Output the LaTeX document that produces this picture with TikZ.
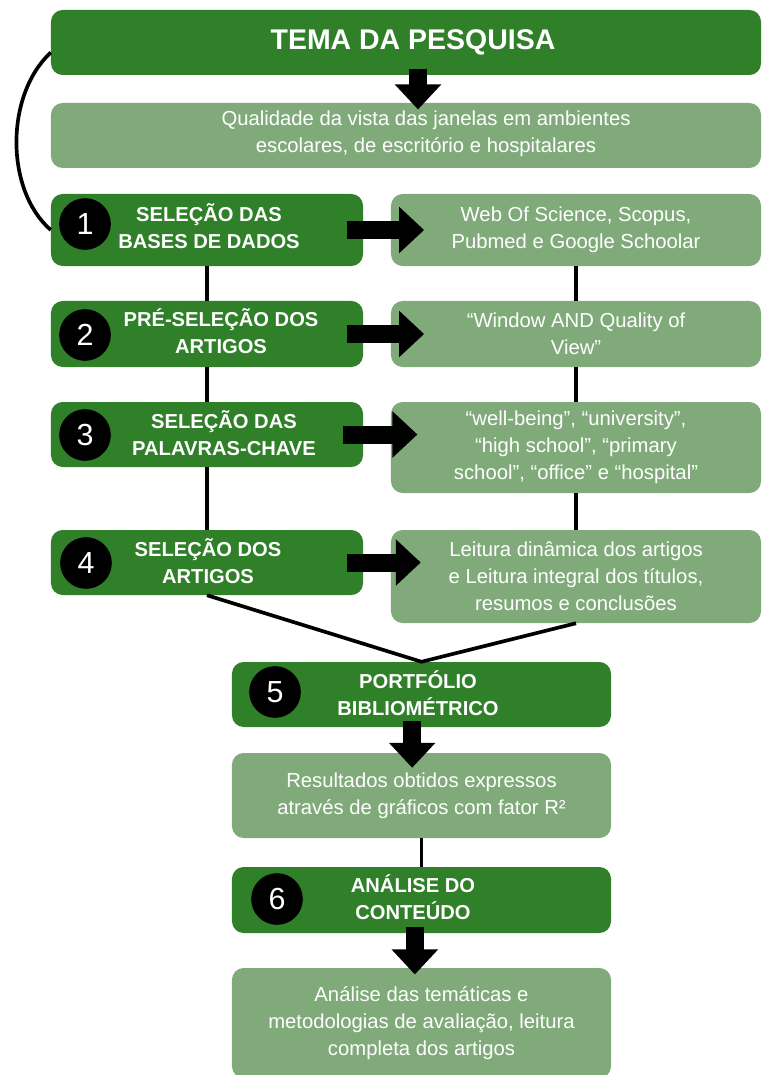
\documentclass[tikz,border=0pt]{standalone}
\usepackage{fontspec}
\setmainfont{Liberation Sans}
\usepackage{xcolor}
\usepackage{tikz}
\usetikzlibrary{arrows.meta}
\definecolor{stepgreen}{RGB}{47,128,41}
\definecolor{softgreen}{RGB}{128,170,122}
\tikzset{
  stepbox/.style={rectangle,rounded corners=0.35cm,fill=stepgreen,minimum width=9.36cm,inner sep=0pt},
  infobox/.style={rectangle,rounded corners=0.35cm,fill=softgreen,text=white,align=center,inner sep=0pt,font=\fontsize{17.3}{23}\selectfont},
  steptext/.style={text=white,align=center,inner sep=0pt,font=\fontsize{17.2}{23}\selectfont\bfseries},
  infotext/.style={text=white,align=center,inner sep=0pt,font=\fontsize{17.3}{23}\selectfont},
  numdot/.style={circle,fill=black,text=white,minimum size=1.55cm,inner sep=0pt,font=\fontsize{26}{26}\selectfont},
  link/.style={line width=0.11cm,black},
  bigarrow/.style={line width=0.54cm,black,-{Triangle[width=1.35cm,length=0.75cm]}}
}

\begin{document}
\begin{tikzpicture}[x=0.03cm,y=-0.03cm]
    \useasboundingbox (0,0) rectangle (762,1075);
    \fill[white] (0,0) rectangle (762,1075);
    \clip (0,0) rectangle (762,1075);

    \node[stepbox,minimum width=21.3cm,minimum height=1.95cm] (tema) at (406,42.5) {};
    \node[steptext,font=\fontsize{24.3}{29}\selectfont\bfseries] (title) at (413,42) {TEMA DA PESQUISA};
    \node[infobox,minimum width=21.3cm,minimum height=1.95cm] (qual) at (406,135.5) {};
    \node[infotext] (qtext) at (426,134) {Qualidade da vista das janelas em ambientes\\escolares, de escritório e hospitalares};

    \node[stepbox,minimum height=2.16cm] (s1) at (207,230) {};
    \node[numdot] (n1) at (85,224) {1};
    \node[steptext] (t1) at (209,226) {SELEÇÃO DAS\\BASES DE DADOS};
    \node[infobox,minimum width=11.1cm,minimum height=2.16cm] (r1) at (576,230) {Web Of Science, Scopus,\\Pubmed e Google Schoolar};

    \node[stepbox,minimum height=1.98cm] (s2) at (207,334) {};
    \node[numdot] (n2) at (85,335) {2};
    \node[steptext] (t2) at (221,331.5) {PRÉ-SELEÇÃO DOS\\ARTIGOS};
    \node[infobox,minimum width=11.1cm,minimum height=1.98cm] (r2) at (576,334) {“Window AND Quality of\\View”};

    \node[stepbox,minimum height=1.95cm] (s3) at (207,434.5) {};
    \node[numdot] (n3) at (85,435) {3};
    \node[steptext] (t3) at (224,433.5) {SELEÇÃO DAS\\PALAVRAS-CHAVE};
    \node[infobox,minimum width=11.1cm,minimum height=2.73cm] (r3) at (576,447.5) {“well-being”, “university”,\\“high school”, “primary\\school”, “office” e “hospital”};

    \node[stepbox,minimum height=1.95cm] (s4) at (207,562.5) {};
    \node[numdot] (n4) at (86,563) {4};
    \node[steptext] (t4) at (208,561.5) {SELEÇÃO DOS\\ARTIGOS};
    \node[infobox,minimum width=11.1cm,minimum height=2.79cm] (r4) at (576,576.5) {Leitura dinâmica dos artigos\\e Leitura integral dos títulos,\\resumos e conclusões};

    \node[stepbox,minimum width=11.37cm,minimum height=1.95cm] (s5) at (421.5,694.5) {};
    \node[numdot] (n5) at (275,692) {5};
    \node[steptext] (t5) at (418,693.5) {PORTFÓLIO\\BIBLIOMÉTRICO};
    \node[infobox,minimum width=11.37cm,minimum height=2.55cm] (res) at (421.5,795.5) {Resultados obtidos expressos\\através de gráficos com fator R²};

    \node[stepbox,minimum width=11.37cm,minimum height=1.98cm] (s6) at (421.5,900) {};
    \node[numdot] (n6) at (277,899) {6};
    \node[steptext] (t6) at (413,897.5) {ANÁLISE DO\\CONTEÚDO};
    \node[infobox,minimum width=11.37cm,minimum height=3.3cm] (fin) at (421.5,1023) {Análise das temáticas e\\metodologias de avaliação, leitura\\completa dos artigos};

    \draw[link] ([yshift=-0.3cm]tema.west) .. controls (5,95) and (5,190) .. (s1.west);
    \draw[link] (s1.south) -- (s2.north) (s2.south) -- (s3.north) (s3.south) -- (s4.north);
    \draw[link] (r1.south) -- (r2.north) (r2.south) -- (r3.north) (r3.south) -- (r4.north);
    \draw[link] (s4.south) -- (s5.north) -- (r4.south);
    \draw[link] (res.south) -- (s6.north);

    \draw[bigarrow] ([xshift=0.36cm,yshift=0.2cm]tema.south) -- ([xshift=0.36cm,yshift=-0.2cm]tema.south |- qual.north);
    \draw[bigarrow] ([xshift=-0.5cm]s1.east) -- ([xshift=1cm]r1.west |- s1.east);
    \draw[bigarrow] ([xshift=-0.5cm]s2.east) -- ([xshift=1cm]r2.west |- s2.east);
    \draw[bigarrow] ([xshift=-0.6cm]s3.east) -- ([xshift=0.8cm]r3.west |- s3.east);
    \draw[bigarrow] ([xshift=-0.5cm]s4.east) -- ([xshift=0.9cm]r4.west |- s4.east);
    \draw[bigarrow] ([xshift=-0.28cm,yshift=0.2cm]s5.south) -- ([xshift=-0.28cm,yshift=-0.45cm]res.north);
    \draw[bigarrow] ([xshift=-0.2cm,yshift=0.2cm]s6.south) -- ([xshift=-0.2cm,yshift=-0.2cm]fin.north);
  \end{tikzpicture}
\end{document}
